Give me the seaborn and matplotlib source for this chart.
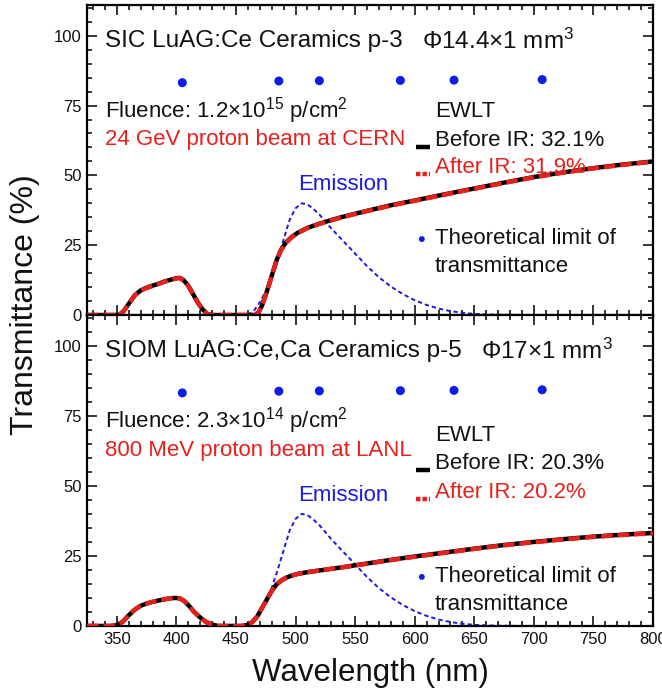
import numpy as np
import matplotlib
matplotlib.use("Agg")
import matplotlib.pyplot as plt
from matplotlib.ticker import MultipleLocator
import seaborn as sns

# transmittance curves (wavelength in nm, transmittance in %)
wl_p3 = [325, 340, 352, 356, 360, 365, 370, 375, 380, 385, 390, 395, 400, 403,
         406, 410, 414, 418, 422, 426, 430, 440, 460, 466, 469, 472, 476, 480,
         484, 488, 492, 497, 502, 510, 520, 530, 540, 560, 580, 600, 625, 650,
         675, 700, 725, 750, 775, 800]
before_p3 = [0, 0, 0, 1.5, 4, 7, 8.8, 9.8, 10.5, 11.2, 12, 12.6, 13.2, 13.3,
             12.5, 10.5, 7.5, 4.5, 2, 0.4, 0, 0, 0, 0, 1, 3.5, 8.5, 14,
             19.5, 23.5, 26, 28, 29.5, 31.2, 32.7, 34, 35.2, 37.3, 39.3, 41, 43.2, 45.3,
             47.4, 49.4, 51.1, 52.6, 53.9, 55]
after_p3 = [0, 0, 0, 1.5, 4, 7, 8.7, 9.7, 10.4, 11.1, 11.9, 12.5, 13.1, 13.2,
            12.4, 10.4, 7.4, 4.4, 2, 0.4, 0, 0, 0, 0, 1, 3.5, 8.4, 13.9,
            19.4, 23.4, 25.9, 27.9, 29.4, 31.1, 32.6, 33.9, 35.1, 37.2, 39.2, 40.9, 43.1, 45.2,
            47.3, 49.3, 51, 52.5, 53.8, 54.9]

wl_p5 = [325, 345, 350, 355, 360, 365, 370, 375, 380, 385, 390, 395, 400, 403,
         407, 411, 415, 420, 425, 430, 435, 455, 460, 464, 468, 472, 476, 480,
         484, 488, 492, 497, 502, 510, 520, 540, 560, 580, 600, 625, 650, 675,
         700, 725, 750, 775, 800]
before_p5 = [0, 0, 0.3, 1.5, 3.8, 5.8, 7.2, 8, 8.6, 9.1, 9.5, 9.9, 10, 9.8,
             8.8, 7, 5, 3, 1.4, 0.5, 0, 0, 0.4, 1.5, 3.5, 6.5, 9.5, 12.5,
             14.8, 16.2, 17.2, 18, 18.6, 19.2, 19.8, 21, 22.3, 23.6, 24.8, 26.2, 27.6, 28.9,
             30, 31, 31.9, 32.6, 33.2]
after_p5 = [0, 0, 0.3, 1.5, 3.8, 5.8, 7.2, 8, 8.6, 9.1, 9.5, 9.9, 10, 9.8,
            8.8, 7, 5, 3, 1.4, 0.5, 0, 0, 0.4, 1.5, 3.5, 6.5, 9.5, 12.5,
            14.8, 16.2, 17.2, 18, 18.6, 19.2, 19.8, 21, 22.2, 23.5, 24.7, 26.1, 27.5, 28.8,
            29.9, 30.9, 31.8, 32.5, 33.1]

# emission spectrum (scaled), same in both panels
wl_em = [460, 465, 470, 475, 480, 485, 490, 495, 500, 505, 510, 515, 520, 525,
         530, 540, 550, 560, 570, 580, 590, 600, 610, 620, 630, 640, 650, 665,
         680, 700]
emission = [0, 1.5, 4.5, 8.5, 13.5, 20, 27, 34, 38.2, 40, 39.6, 38, 36, 33.5,
            31, 26.5, 22, 17.5, 13.5, 10.2, 7.5, 5.3, 3.6, 2.3, 1.4, 0.8, 0.4, 0.15,
            0.05, 0]

# theoretical limit of transmittance
wl_limit = [405, 486, 520, 588, 633, 707]
t_limit = [83.2, 83.8, 83.9, 84.0, 84.1, 84.3]

panels = [
    dict(wl=wl_p3, before=before_p3, after=after_p3,
         title="SIC LuAG:Ce Ceramics p-3",
         size=r"$\Phi$14.4$\times$1 mm$^{3}$", x_size=606,
         fluence=r"Fluence: 1.2$\times$10$^{15}$ p/cm$^{2}$",
         beam="24 GeV proton beam at CERN",
         ewlt_before="Before IR: 32.1%", ewlt_after="After IR: 31.9%",
         y_ewlt=72.9, y_before=62.5, y_after=52.7,
         y_dot=27.2, y_theo2=17.3),
    dict(wl=wl_p5, before=before_p5, after=after_p5,
         title="SIOM LuAG:Ce,Ca Ceramics p-5",
         size=r"$\Phi$17$\times$1 mm$^{3}$", x_size=656,
         fluence=r"Fluence: 2.3$\times$10$^{14}$ p/cm$^{2}$",
         beam="800 MeV proton beam at LANL",
         ewlt_before="Before IR: 20.3%", ewlt_after="After IR: 20.2%",
         y_ewlt=67.9, y_before=57.9, y_after=47.6,
         y_dot=17.5, y_theo2=7.5),
]

RED = "#e8201c"
BLUE = "#1a1ae0"
DOT = "#0a1ee8"

sns.set_style("ticks")
plt.rcParams["font.family"] = ["Liberation Sans", "DejaVu Sans"]
plt.rcParams["mathtext.fontset"] = "custom"
plt.rcParams["mathtext.rm"] = "Liberation Sans"
plt.rcParams["mathtext.it"] = "Liberation Sans:italic"
plt.rcParams["mathtext.default"] = "regular"
plt.rcParams["text.color"] = "#111111"

fig = plt.figure(figsize=(6.62, 6.98), dpi=100)
ax_top = fig.add_axes([0.1314, 0.5487, 0.855, 0.4441])
ax_bot = fig.add_axes([0.1314, 0.1032, 0.855, 0.4455], sharex=ax_top)

fs = 16
fs_title = 17.5
for ax, p in zip([ax_top, ax_bot], panels):
    sns.lineplot(x=p["wl"], y=p["before"], ax=ax, color="black", linewidth=3.2,
                 zorder=3)
    sns.lineplot(x=p["wl"], y=p["after"], ax=ax, color=RED, linewidth=3.2,
                 linestyle=(0, (2.6, 1.1)), zorder=4)
    sns.lineplot(x=wl_em, y=emission, ax=ax, color=BLUE, linewidth=1.4,
                 linestyle=(0, (2.2, 1.6)), zorder=2)
    sns.scatterplot(x=wl_limit, y=t_limit, ax=ax, color=DOT, s=42,
                    edgecolor="none", zorder=5)

    ax.set_xlim(325, 800)
    ax.set_ylim(0, 111)
    ax.xaxis.set_major_locator(MultipleLocator(50))
    ax.xaxis.set_minor_locator(MultipleLocator(10))
    ax.yaxis.set_major_locator(MultipleLocator(25))
    ax.yaxis.set_minor_locator(MultipleLocator(5))
    ax.tick_params(which="both", direction="in", top=True, right=True,
                   width=1.3, labelsize=12, pad=4, labelcolor="#111111")
    ax.tick_params(which="major", length=7)
    ax.tick_params(which="minor", length=3.5)
    for s in ax.spines.values():
        s.set_linewidth(1.6)
        s.set_color("black")
    ax.set_xlabel("")
    ax.set_ylabel("")

    # annotations
    ax.text(340, 98, p["title"], fontsize=fs_title, va="center", ha="left")
    ax.text(p["x_size"], 98, p["size"], fontsize=fs_title, va="center", ha="left")
    ax.text(340, 73.2, p["fluence"], fontsize=fs, va="center", ha="left")
    ax.text(340, 62.8, p["beam"], fontsize=fs, va="center", ha="left", color=RED)
    ax.text(617, p["y_ewlt"], "EWLT", fontsize=fs, va="center", ha="left")
    ax.text(617, p["y_before"], p["ewlt_before"], fontsize=fs, va="center", ha="left")
    ax.text(617, p["y_after"], p["ewlt_after"], fontsize=fs, va="center",
            ha="left", color=RED)
    ax.plot([601, 613], [p["y_before"] - 2.4] * 2, color="black", lw=3.2,
            solid_capstyle="butt")
    ax.plot([601, 613], [p["y_after"] - 2.2] * 2, color=RED, lw=3.2,
            linestyle=(0, (1.0, 0.45)))
    ax.text(502, 46.6, "Emission", fontsize=fs, va="center", ha="left", color=BLUE)
    ax.scatter([606], [p["y_dot"]], color=DOT, s=18, edgecolor="none")
    ax.text(617, p["y_dot"] + 0.2, "Theoretical limit of", fontsize=fs,
            va="center", ha="left")
    ax.text(617, p["y_theo2"], "transmittance", fontsize=fs, va="center", ha="left")

ax_top.tick_params(labelbottom=False)
ax_bot.set_xticks(range(350, 801, 50))

fig.text(0.559, 0.036, "Wavelength (nm)", fontsize=22.5, ha="center", va="center")
fig.text(0.0385, 0.563, "Transmittance (%)", fontsize=23, ha="center",
         va="center", rotation=90)

fig.savefig("out.png", dpi=100)
